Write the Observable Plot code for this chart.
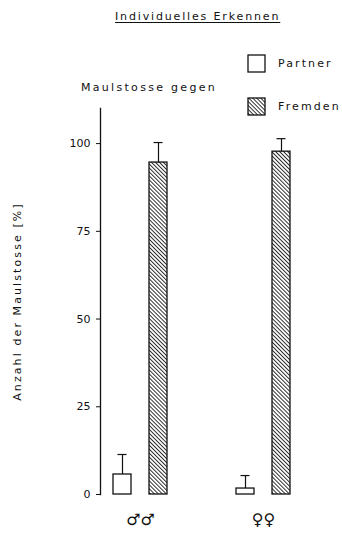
<!DOCTYPE html>
<html><head><meta charset="utf-8">
<script src="https://cdn.jsdelivr.net/npm/d3@7"></script>
<script src="https://cdn.jsdelivr.net/npm/@observablehq/plot@0.6"></script>
<style>
body{margin:0;background:#fff;font-family:"DejaVu Sans",sans-serif;color:#111;}
#wrap{position:relative;width:342px;height:537px;overflow:hidden;}
#head{position:relative;height:100px;z-index:1;}
.t{position:absolute;font-size:11px;line-height:11px;white-space:nowrap;color:#111;}
.sw{position:absolute;}
</style></head><body>
<svg width="0" height="0" style="position:absolute">
<defs><pattern id="hatch" patternUnits="userSpaceOnUse" width="2.8" height="10" patternTransform="rotate(-45)">
<line x1="0.5" y1="0" x2="0.5" y2="10" stroke="#111" stroke-width="0.9"/></pattern></defs></svg>
<div id="wrap">
<div id="head">
 <div class="t" style="left:115px;top:11px;letter-spacing:1.85px;text-decoration:underline;text-underline-offset:2px">Individuelles Erkennen</div>
 <div class="t" style="left:81px;top:82px;letter-spacing:2.3px">Maulstosse gegen</div>
 <div id="legend"></div>
</div>
<div id="chart"></div>
</div>
<script>
const groups = ["♂♂", "♀♀"];
const series = ["Partner", "Fremden"];
const partnerValues = [5.7, 1.7];
const partnerErrors = [5.7, 3.7];
const fremdenValues = [94.6, 97.7];
const fremdenErrors = [5.7, 3.7];
const yTicks = [0, 25, 50, 75, 100];

const rows = [];
groups.forEach((g, i) => {
  rows.push({group: g, series: series[0], value: partnerValues[i], error: partnerErrors[i]});
  rows.push({group: g, series: series[1], value: fremdenValues[i], error: fremdenErrors[i]});
});

// legend
const legendFill = ["white", "url(#hatch)"];
const legendTop = [54, 97];
const legend = document.getElementById("legend");
series.forEach((s, i) => {
  const sw = document.createElementNS("http://www.w3.org/2000/svg", "svg");
  sw.setAttribute("width", 20); sw.setAttribute("height", 20);
  sw.setAttribute("class", "sw");
  sw.style.left = "247px"; sw.style.top = legendTop[i] + "px";
  sw.innerHTML = `<rect x="1" y="1" width="17" height="17" fill="${legendFill[i]}" stroke="#111" stroke-width="1.3"/>`;
  legend.appendChild(sw);
  const t = document.createElement("div");
  t.className = "t";
  t.style.left = "278px"; t.style.top = (legendTop[i] + 4) + "px";
  t.style.letterSpacing = "2.1px";
  t.textContent = s;
  legend.appendChild(t);
});

const chart = Plot.plot({
  width: 342, height: 437,
  marginTop: 8, marginBottom: 43, marginLeft: 63, marginRight: 2,
  style: {fontFamily: "DejaVu Sans", fontSize: "11px", background: "transparent", color: "#111"},
  fx: {domain: groups, paddingInner: 0.352, paddingOuter: 0.3, label: null},
  x: {domain: series, paddingInner: 0.5, paddingOuter: 0.36, axis: null},
  y: {domain: [0, 110]},
  marks: [
    Plot.frame({anchor: "left", facetAnchor: "left", strokeWidth: 1.3}),
    Plot.axisY({ticks: yTicks, tickSize: 4, tickPadding: 6, label: "Anzahl der Maulstosse [%]", labelAnchor: "center", labelOffset: 48, labelArrow: false}),
    Plot.axisFx({anchor: "bottom", tickSize: 0, tickPadding: 19, fontSize: 16, label: null}),
    Plot.ruleX(rows, {fx: "group", x: "series", y1: "value", y2: d => d.value + d.error, strokeWidth: 1.2}),
    Plot.tickY(rows, {fx: "group", x: "series", y: d => d.value + d.error, insetLeft: 4.5, insetRight: 4.5, strokeWidth: 1.2}),
    Plot.barY(rows.filter(d => d.series === series[0]), {fx: "group", x: "series", y: "value", fill: "white", stroke: "#111", strokeWidth: 1.3}),
    Plot.barY(rows.filter(d => d.series === series[1]), {fx: "group", x: "series", y: "value", fill: "url(#hatch)", stroke: "#111", strokeWidth: 1.3})
  ]
});
document.getElementById("chart").appendChild(chart);
const lab = d3.select(chart).selectAll("[aria-label='y-axis label'] text").style("letter-spacing", "2.1px");
const labNode = lab.node();
if (labNode) {
  const bb = labNode.getBoundingClientRect();
  const cb = chart.getBoundingClientRect();
  const dx = 17 - (bb.left - cb.left + bb.width / 2);
  const g = labNode.parentNode;
  const prev = g.getAttribute("transform") || "";
  g.setAttribute("transform", `translate(${dx},0) ${prev}`);
}
</script>
</body></html>
